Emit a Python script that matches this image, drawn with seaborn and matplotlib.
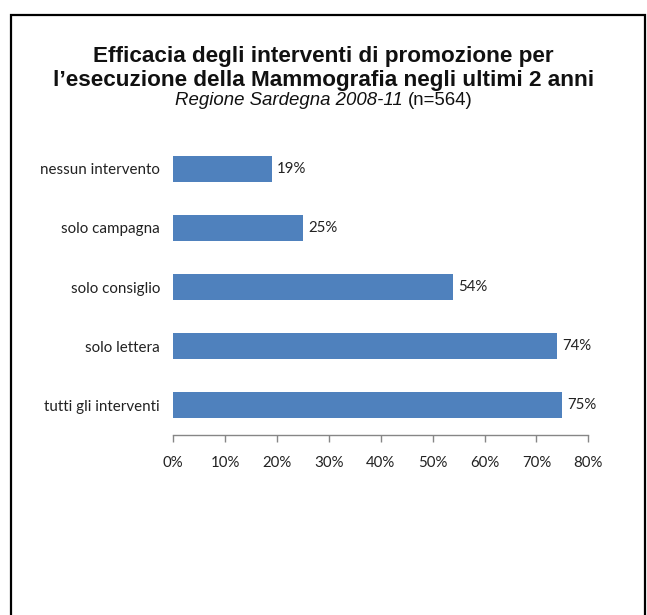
import matplotlib
matplotlib.use("Agg")
import matplotlib.pyplot as plt
from matplotlib.patches import Rectangle
from matplotlib.ticker import PercentFormatter
import seaborn as sns
import pandas as pd

categories = ["nessun intervento", "solo campagna", "solo consiglio",
              "solo lettera", "tutti gli interventi"]
values = [19, 25, 54, 74, 75]
tick_values = [0, 10, 20, 30, 40, 50, 60, 70, 80]

df = pd.DataFrame({"categoria": categories, "valore": values})

sns.set_theme(style="white")
plt.rcParams["font.family"] = ["Lato", "DejaVu Sans"]

W, H = 647, 615
fig = plt.figure(figsize=(W / 100, H / 100), dpi=100)
fig.patch.set_facecolor("white")

# axes placed in pixel terms
left, right, top, bottom = 173.3, 588.3, 139.5, 434.5
ax = fig.add_axes([left / W, 1 - bottom / H, (right - left) / W, (bottom - top) / H])

sns.barplot(data=df, x="valore", y="categoria", orient="h", color="#4F81BD",
            width=0.43, saturation=1, linewidth=0, ax=ax)

for bar, v in zip(ax.patches, values):
    ax.text(bar.get_width() + 1.0, bar.get_y() + bar.get_height() / 2,
            f"{v}%", va="center", ha="left", fontsize=10.8, color="#222222")

ax.set_xlim(0, 80)
ax.set_xticks(tick_values)
ax.xaxis.set_major_formatter(PercentFormatter(decimals=0))
ax.set_xlabel("")
ax.set_ylabel("")
for s in ["left", "right", "top"]:
    ax.spines[s].set_visible(False)
ax.spines["bottom"].set_color("#868686")
ax.spines["bottom"].set_linewidth(1.0)
ax.tick_params(axis="x", bottom=True, direction="out", length=5, width=1,
               color="#868686", labelsize=10.8, labelcolor="#222222", pad=10.5)
ax.tick_params(axis="y", left=False, labelsize=10.9, labelcolor="#222222", pad=3.5)

# titles (positioned by baseline)
title_font = ["Liberation Sans", "DejaVu Sans"]
fig.text(0.5, 1 - 62 / H, "Efficacia degli interventi di promozione per",
         ha="center", va="baseline", fontsize=16.2, fontweight="bold",
         family=title_font, color="#111111")
fig.text(0.5, 1 - 86 / H, "l\u2019esecuzione della Mammografia negli ultimi 2 anni",
         ha="center", va="baseline", fontsize=16.2, fontweight="bold",
         family=title_font, color="#111111")

# subtitle: italic part + regular part, centred as one line
renderer = fig.canvas.get_renderer()
sub_y = 1 - 105 / H
part_a = fig.text(0, sub_y, "Regione Sardegna 2008-11 ", ha="left", va="baseline",
                  fontsize=13.4, fontstyle="italic", family=title_font, color="#111111")
part_b = fig.text(0, sub_y, "(n=564)", ha="left", va="baseline", fontsize=13.4,
                  family=title_font, color="#111111")
wa = part_a.get_window_extent(renderer).width
wb = part_b.get_window_extent(renderer).width
x0 = (W - (wa + wb)) / 2
part_a.set_x(x0 / W)
part_b.set_x((x0 + wa) / W)

# outer frame
fig.patches.append(Rectangle((11 / W, -0.05), (645 - 11) / W, 1.05 - 15 / H,
                             transform=fig.transFigure, fill=False,
                             edgecolor="black", linewidth=1.6, clip_on=False))

fig.savefig("out.png", dpi=100)
